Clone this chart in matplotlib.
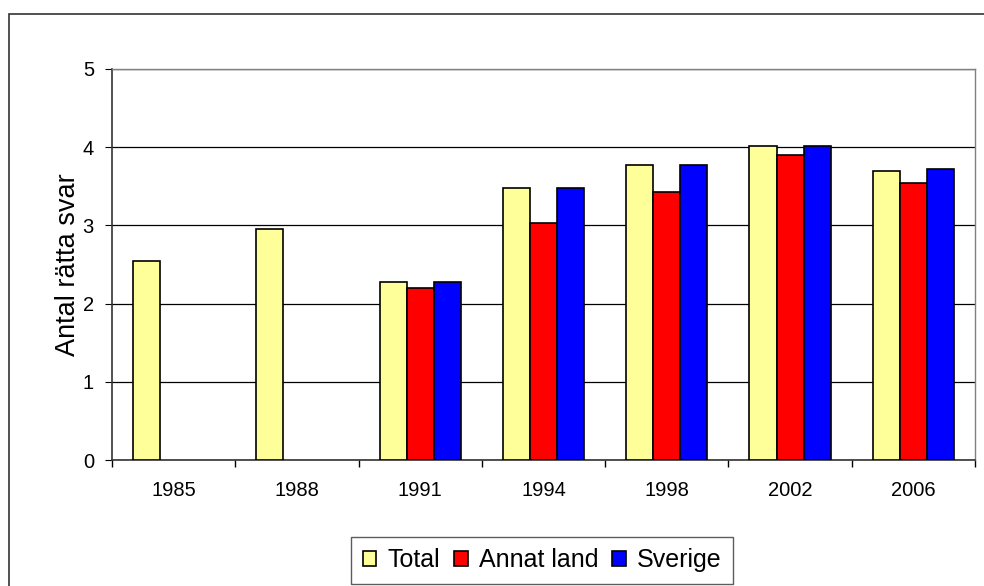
import numpy as np
import matplotlib.pyplot as plt
from matplotlib.patches import Rectangle

plt.rcParams['font.family'] = ['Liberation Sans', 'DejaVu Sans']

# data
years = ['1985', '1988', '1991', '1994', '1998', '2002', '2006']
total = [2.54, 2.96, 2.28, 3.48, 3.77, 4.01, 3.69]
annat_land = [np.nan, np.nan, 2.20, 3.03, 3.43, 3.90, 3.54]
sverige = [np.nan, np.nan, 2.28, 3.48, 3.77, 4.01, 3.72]

series = [('Total', total, '#FFFF99'),
          ('Annat land', annat_land, '#FF0000'),
          ('Sverige', sverige, '#0000FF')]

fig = plt.figure(figsize=(9.84, 5.86), dpi=100)
# outer chart frame (runs past the right and bottom edges)
fig.patches.append(Rectangle((9/984, -0.1), 1.1, 1 - 14/586 + 0.1,
                             transform=fig.transFigure, fill=False,
                             edgecolor='#333333', linewidth=1.2))

ax = fig.add_axes([112/984, 1 - 460/586, 863/984, 391/586])
x = np.arange(len(years))
w = 0.22
for i, (name, vals, col) in enumerate(series):
    ax.bar(x + (i - 1) * w, vals, w, color=col, edgecolor='black',
           linewidth=1.2, label=name, zorder=3)

ax.set_xlim(-0.5, len(years) - 0.5)
ax.set_ylim(0, 5)
ax.set_yticks(range(6))
ax.set_xticks(x)
ax.set_xticklabels(years)
ax.set_xticks(np.arange(-0.5, len(years), 1), minor=True)
ax.tick_params(axis='x', which='major', length=0, labelsize=14.5, pad=15)
ax.tick_params(axis='x', which='minor', length=5, direction='out', width=1)
ax.tick_params(axis='y', length=5, direction='out', labelsize=14.5, pad=8)
ax.yaxis.grid(True, color='black', linewidth=0.9, zorder=0)
ax.set_axisbelow(True)
for s in ['top', 'right']:
    ax.spines[s].set_color('#808080')
    ax.spines[s].set_linewidth(1.0)
for s in ['left', 'bottom']:
    ax.spines[s].set_color('#333333')
    ax.spines[s].set_linewidth(1.2)
ax.set_ylabel('Antal rätta svar', fontsize=19.5)
ax.yaxis.set_label_coords(-0.036, 0.5)

leg = fig.legend(loc='upper center', bbox_to_anchor=(0.551, 1 - 537/586), ncol=3,
                 fontsize=18, frameon=True, fancybox=False, handlelength=0.55,
                 handleheight=0.55, handletextpad=0.45, columnspacing=0.55,
                 borderpad=0.45, borderaxespad=0)
leg.get_frame().set_edgecolor('#333333')
leg.get_frame().set_linewidth(1.0)

fig.savefig('out.png', dpi=100)
